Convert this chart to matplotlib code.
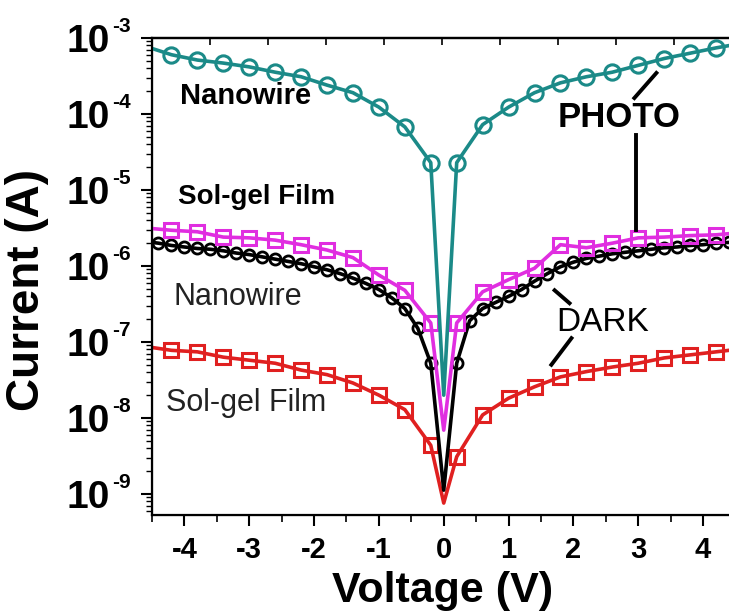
import numpy as np
import matplotlib
matplotlib.use("Agg")
import matplotlib.pyplot as plt
from matplotlib.ticker import FixedLocator, NullFormatter, LogLocator

plt.rcParams['font.family'] = ['Liberation Sans', 'DejaVu Sans']
plt.rcParams['axes.unicode_minus'] = False

# sweep points for the marked curves (V); ends lie just outside the plotted range
v_sweep = [-4.6, -4.2, -3.8, -3.4, -3.0, -2.6, -2.2, -1.8, -1.4, -1.0, -0.6, -0.2, 0.0,
           0.2, 0.6, 1.0, 1.4, 1.8, 2.2, 2.6, 3.0, 3.4, 3.8, 4.2, 4.6]

# log10 of current (A)
photo_nanowire = [-3.11, -3.22, -3.29, -3.33, -3.38, -3.45, -3.51, -3.62, -3.72, -3.91, -4.17, -4.64, -7.70,
                  -4.64, -4.14, -3.91, -3.72, -3.59, -3.51, -3.45, -3.36, -3.27, -3.20, -3.13, -3.07]
photo_solgel = [-5.50, -5.53, -5.55, -5.62, -5.63, -5.66, -5.72, -5.79, -5.89, -6.12, -6.32, -6.75, -8.16,
                -6.75, -6.34, -6.18, -6.03, -5.72, -5.76, -5.70, -5.63, -5.62, -5.60, -5.59, -5.56]
dark_solgel = [-7.06, -7.11, -7.13, -7.20, -7.24, -7.28, -7.37, -7.43, -7.54, -7.70, -7.89, -8.36, -9.12,
               -8.51, -7.96, -7.74, -7.59, -7.46, -7.39, -7.33, -7.28, -7.21, -7.17, -7.13, -7.09]

# dark nanowire was logged on a finer 0.2 V step
v_fine = [-4.6, -4.4, -4.2, -4.0, -3.8, -3.6, -3.4, -3.2, -3.0, -2.8, -2.6, -2.4, -2.2, -2.0,
          -1.8, -1.6, -1.4, -1.2, -1.0, -0.8, -0.6, -0.4, -0.2, 0.0,
          0.2, 0.4, 0.6, 0.8, 1.0, 1.2, 1.4, 1.6, 1.8, 2.0, 2.2, 2.4, 2.6, 2.8,
          3.0, 3.2, 3.4, 3.6, 3.8, 4.0, 4.2, 4.4, 4.6]
dark_nanowire = [-5.68, -5.70, -5.73, -5.75, -5.77, -5.78, -5.80, -5.83, -5.85, -5.88, -5.91, -5.94, -5.97, -6.01,
                 -6.05, -6.10, -6.16, -6.23, -6.31, -6.42, -6.56, -6.82, -7.28, -8.95,
                 -7.28, -6.72, -6.56, -6.48, -6.40, -6.31, -6.20, -6.10, -6.01, -5.95, -5.90, -5.87, -5.84, -5.82,
                 -5.80, -5.78, -5.76, -5.75, -5.73, -5.72, -5.70, -5.69, -5.68]

teal = '#1b8a88'
magenta = '#e02ee0'
red = '#e02020'

fig = plt.figure(figsize=(7.29, 6.13), dpi=100)
ax = fig.add_axes([0.2085, 0.160, 0.7915, 0.778])

marks = [i for i in range(1, len(v_sweep) - 1) if v_sweep[i] != 0.0]
marks_fine = [i for i in range(1, len(v_fine) - 1) if v_fine[i] != 0.0]

ax.plot(v_sweep, 10.0 ** np.array(dark_solgel), color=red, lw=2.6, marker='s', ms=10.5,
        mfc='none', mec=red, mew=2.2, markevery=marks, zorder=2)
ax.plot(v_fine, 10.0 ** np.array(dark_nanowire), color='black', lw=2.6, marker='o', ms=8,
        mfc='none', mec='black', mew=2.0, markevery=marks_fine, zorder=3)
ax.plot(v_sweep, 10.0 ** np.array(photo_solgel), color=magenta, lw=2.6, marker='s', ms=10.5,
        mfc='none', mec=magenta, mew=2.2, markevery=marks, zorder=4)
ax.plot(v_sweep, 10.0 ** np.array(photo_nanowire), color=teal, lw=2.6, marker='o', ms=11,
        mfc='none', mec=teal, mew=2.2, markevery=marks, zorder=5)

ax.set_yscale('log')
ax.set_xlim(-4.5, 4.4)
ax.set_ylim(10 ** -9.276, 1e-3)

for side in ('left', 'bottom', 'top'):
    ax.spines[side].set_linewidth(1.6)
ax.spines['right'].set_visible(False)

ax.xaxis.set_major_locator(FixedLocator([-4, -3, -2, -1, 0, 1, 2, 3, 4]))
ax.xaxis.set_minor_locator(FixedLocator(np.arange(-4.5, 4.6, 1.0)))
ax.tick_params(axis='x', which='major', direction='out', length=8, width=1.5,
               labelsize=21, pad=7)
ax.tick_params(axis='x', which='minor', direction='out', length=5, width=1.2)
for lab in ax.get_xticklabels():
    lab.set_fontweight('bold')

ax.yaxis.set_major_locator(LogLocator(base=10, numticks=20))
ax.yaxis.set_minor_locator(LogLocator(base=10, subs=np.arange(2, 10), numticks=20))
ax.yaxis.set_major_formatter(NullFormatter())
ax.yaxis.set_minor_formatter(NullFormatter())
ax.tick_params(axis='y', which='major', direction='out', length=8, width=1.5)
ax.tick_params(axis='y', which='minor', direction='out', length=4, width=1.0)

# decade labels drawn as base plus a small raised exponent
for d in range(-9, -2):
    ax.annotate('10', xy=(0, 10.0 ** d), xycoords=('axes fraction', 'data'),
                xytext=(-30, -3), textcoords='offset points', ha='right', va='center',
                fontsize=28, fontweight='bold')
    ax.annotate(str(d), xy=(0, 10.0 ** d), xycoords=('axes fraction', 'data'),
                xytext=(-29, 8.5), textcoords='offset points', ha='left', va='center',
                fontsize=15, fontweight='bold')

# plain ticks along the top frame
top = ax.twiny()
top.set_xlim(0, 577 / 58)
top.set_xticks(np.arange(1, 10))
top.tick_params(axis='x', direction='in', length=5, width=1.2, labeltop=False)
top.spines['right'].set_visible(False)
top.spines['top'].set_linewidth(1.6)

ax.set_xlabel('Voltage (V)', fontsize=31, fontweight='bold')
ax.xaxis.set_label_coords(0.503, -0.118)
ax.set_ylabel('Current (A)', fontsize=33, fontweight='bold')
ax.yaxis.set_label_coords(-0.178, 0.472)

ax.text(-3.05, 10 ** -3.76, 'Nanowire', fontsize=21, fontweight='bold', ha='center', va='center')
ax.text(-2.88, 10 ** -5.09, 'Sol-gel Film', fontsize=20, fontweight='bold', ha='center', va='center')
ax.text(-3.18, 10 ** -6.41, 'Nanowire', fontsize=22, color='#222222', ha='center', va='center')
ax.text(-3.05, 10 ** -7.80, 'Sol-gel Film', fontsize=22, color='#222222', ha='center', va='center')
ax.text(2.71, 10 ** -4.04, 'PHOTO', fontsize=25, fontweight='bold', ha='center', va='center')
ax.text(2.45, 10 ** -6.74, 'DARK', fontsize=24, ha='center', va='center')

# pointer strokes for the two group labels
ax.plot([2.94, 3.28], [10 ** -3.79, 10 ** -3.46], color='black', lw=2.8, zorder=6)
ax.plot([2.97, 2.97], [10 ** -4.28, 10 ** -5.53], color='black', lw=2.8, zorder=6)
ax.plot([1.71, 1.94], [10 ** -6.32, 10 ** -6.49], color='black', lw=2.8, zorder=6)
ax.plot([1.97, 1.66], [10 ** -6.95, 10 ** -7.30], color='black', lw=2.8, zorder=6)

fig.savefig('out.png', dpi=100)
